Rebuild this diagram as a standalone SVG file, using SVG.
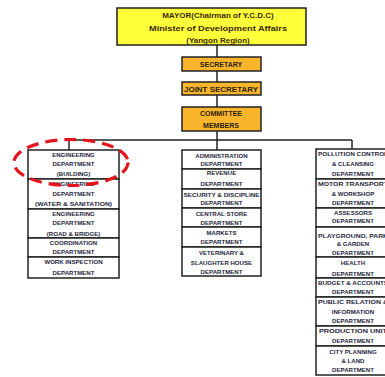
<svg xmlns="http://www.w3.org/2000/svg" width="385" height="377" viewBox="0 0 385 377">
  <style>
    .box { stroke: #222; stroke-width: 1.5; }
    .mayor { fill: #ffff3a; }
    .gold { fill: #fbb52d; }
    .dept { fill: #ffffff; }
    .link { stroke: #222; stroke-width: 1.5; fill: none; }
    .head { font-family: "Liberation Sans", Arial, sans-serif; font-weight: bold; font-size: 8px; fill: #3a2a08; text-anchor: middle; }
    .mid { font-family: "Liberation Sans", Arial, sans-serif; font-weight: bold; font-size: 7px; fill: #2a2410; text-anchor: middle; }
    .t { font-family: "Liberation Sans", Arial, sans-serif; font-weight: bold; font-size: 6.1px; fill: #26263c; text-anchor: middle; }
    .mark { fill: none; stroke: #e3141c; stroke-width: 3.2; stroke-dasharray: 12 7; }
  </style>
  <rect width="385" height="377" fill="#ffffff"/>

  <!-- connectors -->
  <g id="connectors">
    <line class="link" x1="217" y1="45" x2="217" y2="140"/>
    <line class="link" x1="69" y1="140" x2="352" y2="140"/>
    <line class="link" x1="69" y1="140" x2="69" y2="150"/>
    <line class="link" x1="217" y1="140" x2="217" y2="150"/>
    <line class="link" x1="352" y1="140" x2="352" y2="149"/>
  </g>

  <!-- leadership chain -->
  <g id="mayor">
    <rect class="box mayor" x="117" y="8" width="189" height="37"/>
    <text class="head" x="218" y="18">MAYOR(Chairman of  Y.C.D.C)</text>
    <text class="head" x="218" y="31" textLength="138" lengthAdjust="spacingAndGlyphs">Minister of Development Affairs</text>
    <text class="head" x="218" y="43">(Yangon Region)</text>
  </g>
  <g id="secretary">
    <rect class="box gold" x="182" y="57" width="79" height="14"/>
    <text class="mid" x="221" y="67">SECRETARY</text>
  </g>
  <g id="joint-secretary">
    <rect class="box gold" x="182" y="82" width="79" height="13"/>
    <text class="mid" x="221" y="91.5" textLength="74" lengthAdjust="spacingAndGlyphs">JOINT SECRETARY</text>
  </g>
  <g id="committee">
    <rect class="box gold" x="182" y="107" width="79" height="24"/>
    <text class="mid" x="221" y="116">COMMITTEE</text>
    <text class="mid" x="221" y="128">MEMBERS</text>
  </g>

  <!-- engineering and inspection column -->
  <g id="eng-building">
    <rect class="box dept" x="28" y="150" width="91" height="29"/>
    <text class="t" x="73.5" y="157">ENGINEERING</text>
    <text class="t" x="73.5" y="166">DEPARTMENT</text>
    <text class="t" x="73.5" y="176">(BUILDING)</text>
  </g>
  <g id="eng-water">
    <rect class="box dept" x="28" y="179" width="91" height="30"/>
    <text class="t" x="73.5" y="186">ENGINEERING</text>
    <text class="t" x="73.5" y="196">DEPARTMENT</text>
    <text class="t" x="73.5" y="206" textLength="77" lengthAdjust="spacingAndGlyphs">(WATER &amp; SANITATION)</text>
  </g>
  <g id="eng-road">
    <rect class="box dept" x="28" y="209" width="91" height="29"/>
    <text class="t" x="73.5" y="216">ENGINEERING</text>
    <text class="t" x="73.5" y="225">DEPARTMENT</text>
    <text class="t" x="73.5" y="236">(ROAD &amp; BRIDGE)</text>
  </g>
  <g id="coordination">
    <rect class="box dept" x="28" y="238" width="91" height="19"/>
    <text class="t" x="73.5" y="245">COORDINATION</text>
    <text class="t" x="73.5" y="254">DEPARTMENT</text>
  </g>
  <g id="work-inspection">
    <rect class="box dept" x="28" y="257" width="91" height="21"/>
    <text class="t" x="73.5" y="264">WORK INSPECTION</text>
    <text class="t" x="73.5" y="275">DEPARTMENT</text>
  </g>

  <!-- administration column -->
  <g id="administration">
    <rect class="box dept" x="182" y="150" width="79" height="19"/>
    <text class="t" x="221.5" y="158">ADMINISTRATION</text>
    <text class="t" x="221.5" y="166">DEPARTMENT</text>
  </g>
  <g id="revenue">
    <rect class="box dept" x="182" y="169" width="79" height="20"/>
    <text class="t" x="221.5" y="175">REVENUE</text>
    <text class="t" x="221.5" y="185.5">DEPARTMENT</text>
  </g>
  <g id="security">
    <rect class="box dept" x="182" y="189" width="79" height="19"/>
    <text class="t" x="221.5" y="197" textLength="76" lengthAdjust="spacingAndGlyphs">SECURITY &amp; DISCIPLINE</text>
    <text class="t" x="221.5" y="205">DEPARTMENT</text>
  </g>
  <g id="central-store">
    <rect class="box dept" x="182" y="208" width="79" height="19"/>
    <text class="t" x="221.5" y="216">CENTRAL STORE</text>
    <text class="t" x="221.5" y="224.5">DEPARTMENT</text>
  </g>
  <g id="markets">
    <rect class="box dept" x="182" y="227" width="79" height="20"/>
    <text class="t" x="221.5" y="235">MARKETS</text>
    <text class="t" x="221.5" y="244">DEPARTMENT</text>
  </g>
  <g id="veterinary">
    <rect class="box dept" x="182" y="247" width="79" height="29"/>
    <text class="t" x="221.5" y="255">VETERINARY &amp;</text>
    <text class="t" x="221.5" y="265">SLAUGHTER HOUSE</text>
    <text class="t" x="221.5" y="274">DEPARTMENT</text>
  </g>

  <!-- services column -->
  <g id="pollution">
    <rect class="box dept" x="316" y="149" width="74" height="30"/>
    <text class="t" x="353" y="156" textLength="70" lengthAdjust="spacingAndGlyphs">POLLUTION CONTROL</text>
    <text class="t" x="353" y="165.5">&amp; CLEANSING</text>
    <text class="t" x="353" y="175.5">DEPARTMENT</text>
  </g>
  <g id="motor-transport">
    <rect class="box dept" x="316" y="179" width="74" height="29"/>
    <text class="t" x="353" y="185.5" textLength="70" lengthAdjust="spacingAndGlyphs">MOTOR TRANSPORT</text>
    <text class="t" x="353" y="195.5">&amp; WORKSHOP</text>
    <text class="t" x="353" y="204.5">DEPARTMENT</text>
  </g>
  <g id="assessors">
    <rect class="box dept" x="316" y="208" width="74" height="19"/>
    <text class="t" x="353" y="215">ASSESSORS</text>
    <text class="t" x="353" y="223">DEPARTMENT</text>
  </g>
  <g id="playground">
    <rect class="box dept" x="316" y="227" width="74" height="30"/>
    <text class="t" x="353" y="238" textLength="70" lengthAdjust="spacingAndGlyphs">PLAYGROUND, PARK</text>
    <text class="t" x="353" y="245.5">&amp; GARDEN</text>
    <text class="t" x="353" y="254.5">DEPARTMENT</text>
  </g>
  <g id="health">
    <rect class="box dept" x="316" y="257" width="74" height="21"/>
    <text class="t" x="353" y="265">HEALTH</text>
    <text class="t" x="353" y="276">DEPARTMENT</text>
  </g>
  <g id="budget">
    <rect class="box dept" x="316" y="278" width="74" height="19"/>
    <text class="t" x="353" y="285" textLength="70" lengthAdjust="spacingAndGlyphs">BUDGET &amp; ACCOUNTS</text>
    <text class="t" x="353" y="293.5">DEPARTMENT</text>
  </g>
  <g id="public-relation">
    <rect class="box dept" x="316" y="297" width="74" height="29"/>
    <text class="t" x="353" y="304" textLength="70" lengthAdjust="spacingAndGlyphs">PUBLIC RELATION &amp;</text>
    <text class="t" x="353" y="314">INFORMATION</text>
    <text class="t" x="353" y="322.5">DEPARTMENT</text>
  </g>
  <g id="production">
    <rect class="box dept" x="316" y="326" width="74" height="20"/>
    <text class="t" x="353" y="333" textLength="68" lengthAdjust="spacingAndGlyphs">PRODUCTION  UNIT</text>
    <text class="t" x="353" y="343">DEPARTMENT</text>
  </g>
  <g id="city-planning">
    <rect class="box dept" x="316" y="346" width="74" height="29"/>
    <text class="t" x="353" y="354">CITY PLANNING</text>
    <text class="t" x="353" y="362.5">&amp; LAND</text>
    <text class="t" x="353" y="372">DEPARTMENT</text>
  </g>

  <!-- highlight ring around the building department -->
  <ellipse class="mark" cx="71" cy="162.5" rx="57" ry="23"/>
</svg>
